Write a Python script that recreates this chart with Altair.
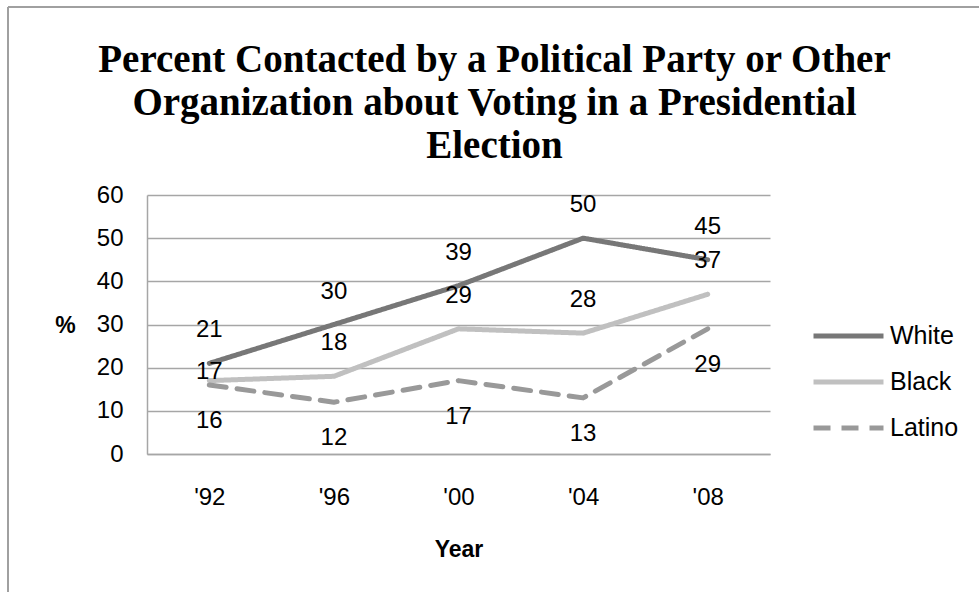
import altair as alt
import pandas as pd

# Contact rates by group and election year (percent)
years = ["'92", "'96", "'00", "'04", "'08"]
groups = ["White", "Black", "Latino"]
white = [21, 30, 39, 50, 45]
black = [17, 18, 29, 28, 37]
latino = [16, 12, 17, 13, 29]

rows = []
for g, vals in zip(groups, [white, black, latino]):
    for i, (yr, v) in enumerate(zip(years, vals)):
        rows.append({"Year": yr, "Group": g, "Value": v, "idx": i})
df = pd.DataFrame(rows)

FONT = "Liberation Sans"
SERIF = "Liberation Serif"
GRID = "#a6a6a6"
FS = 24

x_enc = alt.X(
    "Year:N",
    sort=years,
    scale=alt.Scale(type="point", padding=0.5),
    axis=alt.Axis(
        title="Year",
        labelAngle=0,
        labelFontSize=FS,
        labelFont=FONT,
        labelColor="#000000",
        labelPadding=31,
        ticks=False,
        domain=True,
        domainColor=GRID,
        domainWidth=1.5,
        grid=False,
        titleFont=FONT,
        titleFontSize=23,
        titleFontWeight="bold",
        titleColor="#000000",
        titleY=95,
        titleBaseline="middle",
    ),
)
y_enc = alt.Y(
    "Value:Q",
    scale=alt.Scale(domain=[0, 60], nice=False),
    axis=alt.Axis(
        title="%",
        titleAngle=0,
        titleX=-82,
        titleY=130,
        titleAlign="center",
        titleBaseline="middle",
        titleFont=FONT,
        titleFontSize=23,
        titleFontWeight="bold",
        titleColor="#000000",
        values=[0, 10, 20, 30, 40, 50, 60],
        labelFontSize=FS,
        labelFont=FONT,
        labelColor="#000000",
        labelPadding=24,
        ticks=False,
        domain=True,
        domainColor=GRID,
        domainWidth=1.5,
        grid=True,
        gridColor=GRID,
        gridWidth=1.5,
    ),
)

color_scale = alt.Scale(domain=groups, range=["#777777", "#c0c0c0", "#999999"])
dash_scale = alt.Scale(domain=groups, range=[[1, 0], [1, 0], [17, 11]])

lines = alt.Chart(df).mark_line(strokeWidth=5, strokeCap="round", strokeJoin="round").encode(
    x=x_enc,
    y=y_enc,
    color=alt.Color(
        "Group:N",
        scale=color_scale,
        sort=groups,
        legend=alt.Legend(
            title=None,
            orient="none",
            legendX=664,
            legendY=118,
            symbolType="stroke",
            symbolSize=4900,
            symbolStrokeWidth=5,
            clipHeight=46,
            labelFont=FONT,
            labelFontSize=25,
            labelColor="#000000",
            labelOffset=4,
            rowPadding=0,
        ),
    ),
    strokeDash=alt.StrokeDash("Group:N", scale=dash_scale, sort=groups, legend=None),
    detail="Group:N",
)

def labels(filter_expr, dy):
    return (
        alt.Chart(df)
        .transform_filter(filter_expr)
        .mark_text(font=FONT, fontSize=FS, color="#000000", dy=dy, baseline="middle")
        .encode(x=alt.X("Year:N", sort=years), y="Value:Q", text="Value:Q")
    )

labels_above = labels("datum.Group != 'Latino' && !(datum.Group == 'Black' && datum.idx == 0)", -33)
labels_near = labels("datum.Group == 'Black' && datum.idx == 0", -9)
labels_below = labels("datum.Group == 'Latino'", 36)

# thin outer frame along the left and top edges
frame_left = alt.Chart(df).mark_rule(color="#a0a0a0", strokeWidth=2).encode(
    x=alt.value(-139), y=alt.value(-188), y2=alt.value(400)
)
frame_top = alt.Chart(df).mark_rule(color="#a0a0a0", strokeWidth=2).encode(
    x=alt.value(-139), x2=alt.value(840), y=alt.value(-188)
)

chart = (
    alt.layer(frame_left, frame_top, lines, labels_above, labels_near, labels_below)
    .properties(
        width=623,
        height=259,
        title=alt.TitleParams(
            text=[
                "Percent Contacted by a Political Party or Other",
                "Organization about Voting in a Presidential",
                "Election",
            ],
            font=SERIF,
            fontSize=39,
            fontWeight="bold",
            color="#000000",
            anchor="middle",
            frame="group",
            dx=36,
            dy=193,
            lineHeight=43,
            offset=33,
        ),
        autosize=alt.AutoSizeParams(type="none"),
        padding={"left": 147, "top": 195, "right": 209, "bottom": 138},
        background="#ffffff",
    )
    .configure_view(stroke=None)
)

chart.save("out.html", embed_options={"renderer": "svg", "actions": False})
